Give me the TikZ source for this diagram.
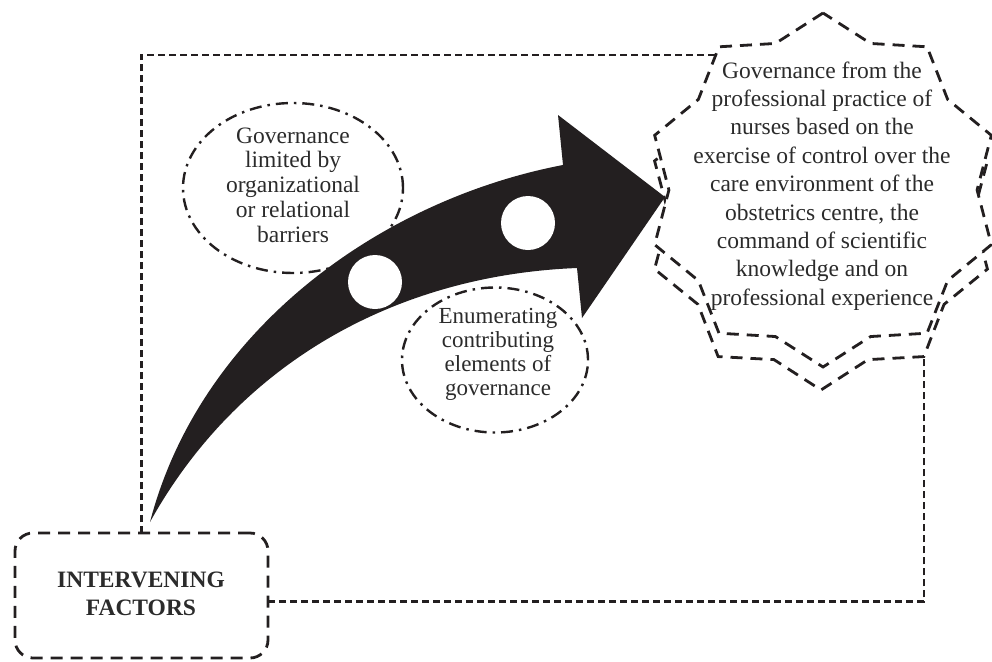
\documentclass[tikz,border=0pt]{standalone}
\usepackage{fontspec}
\setmainfont{Liberation Serif}
\usetikzlibrary{shapes.geometric,backgrounds}
\definecolor{ink}{HTML}{231F20}
\definecolor{txt}{HTML}{2B2B2B}
\tikzset{
  starbox/.style={star, star points=10, draw=ink, line width=2.8pt,
    dash pattern=on 12pt off 8pt, fill=white, inner sep=0pt, outer sep=0pt},
  conn/.style={draw=ink, line width=2.4pt, dash pattern=on 7pt off 4pt},
  ddash/.style={ellipse, draw=ink, line width=2.4pt,
    dash pattern=on 12pt off 6pt on 2.5pt off 6pt, inner sep=0pt},
  lbl/.style={text=txt, align=center, inner sep=0pt},
  framebox/.style={draw=ink, line width=2.8pt, dash pattern=on 12pt off 8pt,
    rounded corners=18pt, minimum width=253pt, minimum height=125pt,
    inner sep=0pt, outer sep=0pt},
  hole/.style={circle, fill=white, minimum size=54pt, inner sep=0pt}
}
\begin{document}
\begin{tikzpicture}[x=1pt,y=-1pt]
\useasboundingbox (0,0) rectangle (992,661);
% stars
\node[starbox, minimum size=350pt, star point ratio=1.151] (back) at (821,215) {};
\node[starbox, minimum size=354pt, star point ratio=1.149] (front) at (823,190) {};
% intervening factors box
\node[framebox] (box) at (141.5,595.5) {};
% connectors
\begin{scope}[on background layer]
  \draw[conn] (box.north) |- ([yshift=-8pt]front.outer point 2);
  \draw[conn] ([yshift=-6pt]box.east) -| (back.outer point 7);
\end{scope}
% ellipses
\node[ddash, minimum width=220pt, minimum height=170pt] (e1) at (293,188) {};
\node[ddash, minimum width=186pt, minimum height=145pt] (e2) at (495,360) {};
% curved arrow
\fill[ink] (150,522) .. controls (200,330) and (380,200) .. (563,165)
  -- (558,115) -- (665,197) -- (582,318) -- (577,268)
  .. controls (400,275) and (240,360) .. (150,522) -- cycle;
\node[hole] (h1) at (375,282) {};
\node[hole] (h2) at (528,223) {};
% texts
\node[lbl, font=\fontsize{23.5}{24.75}\selectfont] (t1) at (293,185)
  {Governance\\limited by\\organizational\\or relational\\barriers};
\node[lbl, font=\fontsize{23}{24}\selectfont] (t2) at (498,354)
  {Enumerating\\contributing\\elements of\\governance};
\node[lbl, font=\fontsize{23.5}{28.4}\selectfont] (t3) at (822,186)
  {Governance from the\\professional practice of\\nurses based on the\\exercise of control over the\\care environment of the\\obstetrics centre, the\\command of scientific\\knowledge and on\\professional experience};
\node[lbl, font=\fontsize{23.5}{28}\selectfont\bfseries] (t4) at (141,594)
  {INTERVENING\\FACTORS};
\end{tikzpicture}
\end{document}
